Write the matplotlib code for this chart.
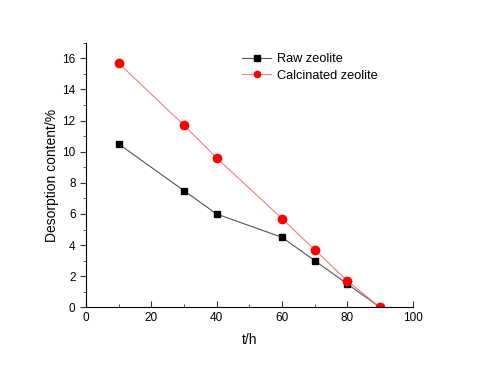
import matplotlib.pyplot as plt
from matplotlib.ticker import MultipleLocator

plt.rcParams['font.family'] = ['Liberation Sans', 'DejaVu Sans']

t = [10, 30, 40, 60, 70, 80, 90]
raw = [10.5, 7.5, 6.0, 4.5, 3.0, 1.5, 0.0]
calcined = [15.7, 11.7, 9.6, 5.7, 3.7, 1.7, 0.0]

fig = plt.figure(figsize=(4.8, 3.69), dpi=100)
ax = fig.add_axes([0.179, 0.167, 0.681, 0.717])

ax.plot(t, raw, color='#555555', lw=0.8, marker='s', ms=5,
        mfc='black', mec='black', label='Raw zeolite')
ax.plot(t, calcined, color='#f08080', lw=0.8, marker='o', ms=6,
        mfc='red', mec='red', label='Calcinated zeolite')

ax.set_xlim(0, 100)
ax.set_ylim(0, 17)
ax.xaxis.set_major_locator(MultipleLocator(20))
ax.xaxis.set_minor_locator(MultipleLocator(10))
ax.yaxis.set_major_locator(MultipleLocator(2))
ax.yaxis.set_minor_locator(MultipleLocator(1))
ax.tick_params(axis='x', which='both', direction='in', labelsize=8.5)
ax.tick_params(axis='y', which='both', direction='out', labelsize=8.5)
ax.tick_params(which='major', length=4, color='#333333')
ax.tick_params(which='minor', length=2.5, color='#333333')
ax.spines['top'].set_visible(False)
ax.spines['right'].set_visible(False)

ax.set_xlabel('t/h', fontsize=10, labelpad=6)
ax.set_ylabel('Desorption content/%', fontsize=10, labelpad=2)

ax.legend(loc='upper left', bbox_to_anchor=(0.477, 0.96), frameon=False,
          fontsize=9.2, handlelength=2.3, handletextpad=0.45,
          labelspacing=0.35, borderpad=0, borderaxespad=0, markerscale=0.75)

fig.savefig('out.png', dpi=100)
